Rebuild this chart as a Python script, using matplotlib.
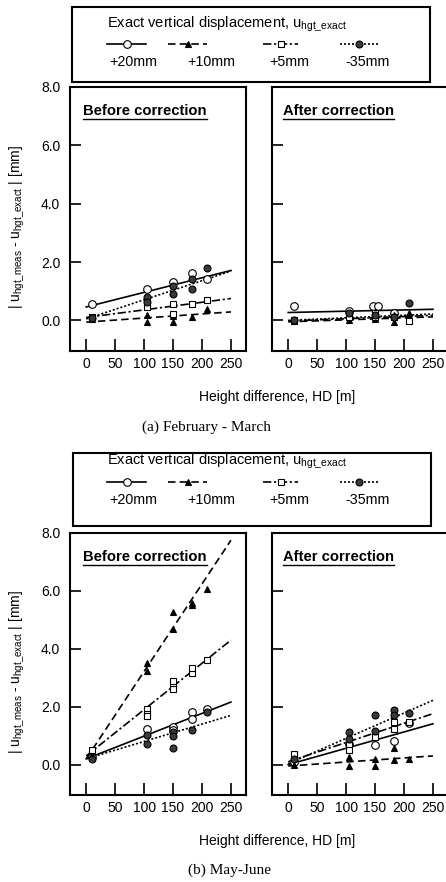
import numpy as np
import matplotlib
matplotlib.use('Agg')
import matplotlib.pyplot as plt
from matplotlib.patches import Rectangle

plt.rcParams['font.family'] = ['Liberation Sans', 'DejaVu Sans']
plt.rcParams['mathtext.fontset'] = 'custom'
plt.rcParams['mathtext.rm'] = 'Liberation Sans'

# ---- data ----
series = ['+20mm', '+10mm', '+5mm', '-35mm']
hd_ticks = [0, 50, 100, 150, 200, 250]
y_ticks = [0.0, 2.0, 4.0, 6.0, 8.0]
line_hd = [0, 250]

# (a) February - March, before correction
a_bef_hd = [[10, 105, 150, 182, 208],
            [10, 105, 105, 150, 150, 182, 208],
            [10, 105, 150, 150, 182, 208],
            [10, 105, 105, 150, 150, 182, 182, 208]]
a_bef_val = [[0.57, 1.09, 1.30, 1.61, 1.41],
             [0.05, 0.20, -0.06, 0.16, -0.04, 0.12, 0.40],
             [0.10, 0.46, 0.57, 0.22, 0.57, 0.69],
             [0.08, 0.80, 0.63, 1.18, 0.89, 1.41, 1.09, 1.78]]
a_bef_line = [[0.46, 1.71], [-0.06, 0.29], [0.10, 0.75], [0.05, 1.69]]

# (a) February - March, after correction
a_aft_hd = [[10, 105, 147, 155, 182],
            [10, 105, 105, 150, 182, 182, 208],
            [10, 105, 150, 150, 182, 208],
            [10, 105, 150, 182, 208]]
a_aft_val = [[0.50, 0.32, 0.50, 0.50, 0.25],
             [-0.02, 0.18, 0.00, 0.05, 0.20, -0.05, 0.25],
             [0.00, 0.10, 0.25, 0.10, 0.10, -0.02],
             [0.00, 0.25, 0.20, 0.10, 0.60]]
a_aft_line = [[0.27, 0.38], [-0.05, 0.12], [-0.02, 0.17], [0.00, 0.22]]

# (b) May-June, before correction
b_bef_hd = [[10, 105, 150, 150, 182, 182, 208],
            [10, 105, 105, 150, 150, 182, 182, 208],
            [10, 105, 105, 105, 150, 150, 150, 182, 182, 208],
            [10, 105, 105, 150, 150, 150, 182, 208]]
b_bef_val = [[0.25, 1.24, 1.30, 1.20, 1.82, 1.59, 1.93],
             [0.33, 3.50, 3.25, 5.26, 4.69, 5.59, 5.50, 6.07],
             [0.49, 1.93, 1.76, 1.69, 2.62, 2.83, 2.90, 3.17, 3.33, 3.62],
             [0.20, 1.01, 0.72, 1.13, 0.99, 0.59, 1.18, 1.82]]
b_bef_line = [[0.20, 2.16], [0.20, 7.75], [0.30, 4.30], [0.20, 1.70]]

# (b) May-June, after correction
b_aft_hd = [[10, 105, 150, 182, 208],
            [10, 105, 105, 150, 150, 182, 182, 208],
            [10, 105, 105, 150, 182, 182, 208],
            [10, 105, 105, 150, 150, 182, 182, 208]]
b_aft_val = [[0.10, 0.70, 0.67, 0.82, 1.45],
             [0.00, 0.25, -0.05, 0.18, -0.05, 0.58, 0.15, 0.18],
             [0.38, 0.67, 0.49, 0.95, 1.47, 1.24, 1.47],
             [0.20, 1.13, 0.90, 1.70, 1.15, 1.87, 1.70, 1.79]]
b_aft_line = [[0.00, 1.41], [-0.05, 0.30], [0.10, 1.76], [0.03, 2.22]]

# ---- styles ----
mk = ['o', '^', 's', 'o']
mface = ['white', 'black', 'white', '#3a3a3a']
msz = [5.5, 5, 5, 5]
dashes = [None, (4.5, 2.5), (5, 1.6, 1.3, 1.6), (1.2, 1.2)]

W, H = 446, 882
fig = plt.figure(figsize=(W / 100, H / 100), dpi=100)


def pax(l, t, r, b):
    return fig.add_axes([l / W, 1 - b / H, (r - l) / W, (b - t) / H])


def style_line(ln, i):
    if dashes[i] is None:
        ln.set_linestyle('-')
    else:
        ln.set_dashes(dashes[i])


def panel(ax, hds, vals, lines, left):
    for i in range(4):
        ln, = ax.plot(line_hd, lines[i], color='black', lw=1.2, zorder=2)
        style_line(ln, i)
        ax.plot(hds[i], vals[i], linestyle='none', marker=mk[i], ms=msz[i],
                mfc=mface[i], mec='black', mew=0.8, zorder=3)
    ax.set_xlim(-28, 276)
    ax.set_ylim(-1.05, 8.0)
    ax.set_xticks(hd_ticks)
    ax.set_yticks(y_ticks)
    ax.tick_params(axis='x', direction='in', length=8.5, width=1.2, pad=4, labelsize=10)
    ax.tick_params(axis='y', direction='in', length=8, width=1.2, pad=7, labelsize=10)
    if left:
        ax.set_yticklabels(['%.1f' % v for v in y_ticks])
    else:
        ax.set_yticklabels([])
    for s in ax.spines.values():
        s.set_linewidth(1.5)


ov = fig.add_axes([0, 0, 1, 1], zorder=10)
ov.set_xlim(0, W)
ov.set_ylim(H, 0)
ov.axis('off')
ov.patch.set_alpha(0)

ylab = r'| u$_{\mathregular{hgt\_meas}}$ - u$_{\mathregular{hgt\_exact}}$ | [mm]'

blocks = [
    dict(top=87, bot=351, box=(72, 7, 430, 82), tit=24, smp=44, lab=62,
         cap='(a) February - March', capx=206, capy=427,
         data=[(a_bef_hd, a_bef_val, a_bef_line), (a_aft_hd, a_aft_val, a_aft_line)]),
    dict(top=533, bot=795, box=(73, 453, 431, 526), tit=461, smp=482, lab=500,
         cap='(b) May-June', capx=229, capy=870,
         data=[(b_bef_hd, b_bef_val, b_bef_line), (b_aft_hd, b_aft_val, b_aft_line)]),
]

smp_x = [(107, 146), (168, 207), (263, 298), (340, 378)]
lab_x = [133, 211, 289, 368]

titles = []
for bl in blocks:
    axl = pax(70, bl['top'], 246, bl['bot'])
    axr = pax(272, bl['top'], 448, bl['bot'])
    panel(axl, *bl['data'][0], left=True)
    panel(axr, *bl['data'][1], left=False)
    ty = bl['top'] + 24
    titles.append(ov.text(83, ty, 'Before correction', fontsize=10.6, fontweight='bold',
                          va='center', ha='left'))
    titles.append(ov.text(283, ty, 'After correction', fontsize=10.6, fontweight='bold',
                          va='center', ha='left'))
    ov.text(17, (bl['top'] + bl['bot']) / 2 + 8, ylab, rotation=90, fontsize=10,
            ha='center', va='center')
    ov.text(277, bl['bot'] + 46, 'Height difference, HD [m]', fontsize=10,
            ha='center', va='center')
    ov.text(bl['capx'], bl['capy'], bl['cap'], fontsize=11, ha='center', va='center',
            family=['Liberation Serif', 'DejaVu Serif'])
    # legend box
    x0, y0, x1, y1 = bl['box']
    ov.add_patch(Rectangle((x0, y0), x1 - x0, y1 - y0, fill=False, lw=1.5, ec='black'))
    ov.text(107, bl['tit'], r'Exact vertical displacement, u$_{\mathregular{hgt\_exact}}$',
            fontsize=10.5, ha='left', va='center')
    for i in range(4):
        a, b = smp_x[i]
        ln, = ov.plot([a, b], [bl['smp'], bl['smp']], color='black', lw=1.2)
        style_line(ln, i)
        ov.plot([(a + b) / 2], [bl['smp']], marker=mk[i], ms=msz[i], mfc=mface[i],
                mec='black', mew=0.8)
        ov.text(lab_x[i], bl['lab'], series[i], fontsize=10.3, ha='center', va='center')

# underline the panel titles
fig.canvas.draw()
r = fig.canvas.get_renderer()
for t in titles:
    bb = t.get_window_extent(renderer=r)
    yb = H - bb.y0 + 1
    ov.plot([bb.x0, bb.x1], [yb, yb], color='black', lw=1.0)

fig.savefig('out.png', dpi=100)
